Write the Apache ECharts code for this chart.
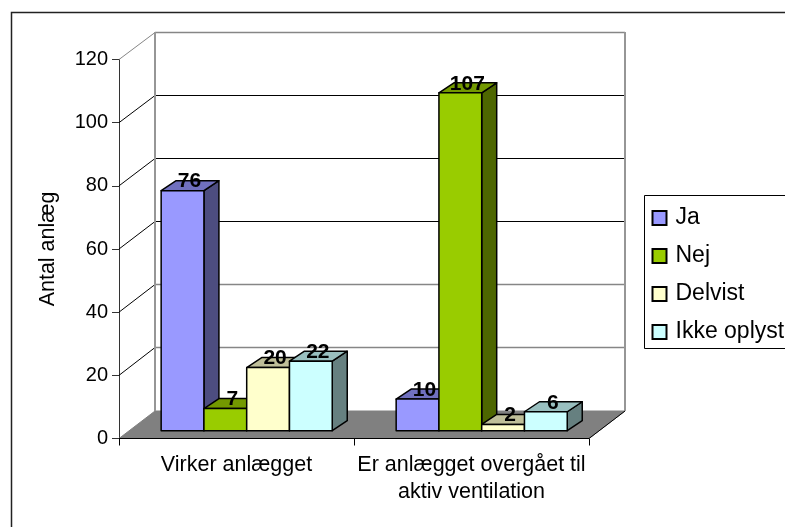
<!DOCTYPE html>
<html>
<head>
<meta charset="utf-8">
<style>html,body{margin:0;padding:0;background:#fff}#c{width:785px;height:527px}</style>
<script src="https://cdn.jsdelivr.net/npm/echarts@6/dist/echarts.min.js"></script>
</head>
<body>
<div id="c"></div>
<script>
const categories = ['Virker anlægget', 'Er anlægget overgået til\naktiv ventilation'];
const seriesNames = ['Ja', 'Nej', 'Delvist', 'Ikke oplyst'];
const ja = [76, 10];
const nej = [7, 107];
const delvist = [20, 2];
const ikkeOplyst = [22, 6];
const seriesValues = [ja, nej, delvist, ikkeOplyst];
const frontColors = ['#9999ff', '#99cc00', '#ffffcc', '#ccffff'];
const topColors = ['#7070bf', '#739900', '#bfbf99', '#99bfbf'];
const sideColors = ['#4d4d80', '#4d6600', '#808066', '#668080'];

const yAxisMax = 120;
const yStep = 20;
// These wall gridlines and the wall outline are drawn in grey, the others in black
const greyGridValues = [20, 40, 120];

// Oblique projection: how far the back wall and the bar columns sit behind the axis plane
const wallDepth = [36, -27.5];
const barPlane = [10.2, -7.8];
const barDepth = [15, -10];
const barWidthRatio = 0.182;
const FONT = '"Liberation Sans", Arial, sans-serif';

function shift(p, d) { return [p[0] + d[0], p[1] + d[1]]; }

// Floor, back wall, side wall and the gridlines that wrap round them
function renderWalls(params, api) {
  const y0 = api.coord([0, 0]);
  const rect = params.coordSys;
  const left = rect.x, right = rect.x + rect.width;
  const base = y0[1];
  const topY = rect.y;
  const children = [];
  const fl = [left, base], fr = [right, base];
  const bl = shift(fl, wallDepth), br = shift(fr, wallDepth);
  children.push({ type: 'polygon', shape: { points: [fl, fr, br, bl] },
    style: { fill: '#808080', stroke: '#808080', lineWidth: 1 } });
  for (let v = yStep; v <= yAxisMax; v += yStep) {
    const y = api.coord([0, v])[1];
    const a = [left, y], b = shift(a, wallDepth);
    const wallY = Math.floor(b[1]) + 0.5;
    const c = [right + wallDepth[0], wallY];
    const grey = greyGridValues.indexOf(v) >= 0;
    children.push({ type: 'line', shape: { x1: a[0], y1: a[1], x2: b[0], y2: wallY },
      style: { stroke: v === yAxisMax ? '#868686' : '#000', lineWidth: 1 } });
    children.push({ type: 'line', shape: { x1: b[0], y1: wallY, x2: c[0], y2: wallY },
      style: { stroke: grey ? '#868686' : '#000', lineWidth: grey ? 1.6 : 1 } });
  }
  const tb = shift([left, topY], wallDepth), tr = shift([right, topY], wallDepth);
  children.push({ type: 'polyline', shape: { points: [bl, tb] }, style: { stroke: '#969696', lineWidth: 2, fill: null } });
  children.push({ type: 'polyline', shape: { points: [tr, br] }, style: { stroke: '#969696', lineWidth: 2, fill: null } });
  children.push({ type: 'polyline', shape: { points: [fl, fr, br] }, style: { stroke: '#000', lineWidth: 1, fill: null } });
  return { type: 'group', children };
}

function makeBarRenderer(sIdx) {
  return function (params, api) {
    const catIdx = api.value(0);
    const val = api.value(1);
    const center = api.coord([catIdx, 0]);
    const band = api.size([1, 0])[0];
    const w = band * barWidthRatio;
    const xL = center[0] + barPlane[0] + (sIdx - 2) * w;
    const xR = xL + w;
    const yB = center[1] + barPlane[1];
    const yT = api.coord([catIdx, val])[1] + barPlane[1];
    const dx = barDepth[0], dy = barDepth[1];
    const line = { stroke: '#000', lineWidth: 1.5, lineJoin: 'round' };
    return {
      type: 'group',
      children: [
        { type: 'polygon', shape: { points: [[xR, yB], [xR + dx, yB + dy], [xR + dx, yT + dy], [xR, yT]] },
          style: Object.assign({ fill: sideColors[sIdx] }, line) },
        { type: 'polygon', shape: { points: [[xL, yT], [xR, yT], [xR + dx, yT + dy], [xL + dx, yT + dy]] },
          style: Object.assign({ fill: topColors[sIdx] }, line) },
        { type: 'rect', shape: { x: xL, y: yT, width: w, height: yB - yT },
          style: Object.assign({ fill: frontColors[sIdx] }, line) },
        { type: 'text', z2: 100, style: { x: xL + w / 2 + dx / 2 - 0.5, y: yT + dy / 2 - 4, text: String(val),
          font: 'bold 21px ' + FONT, fill: '#000', align: 'center', verticalAlign: 'middle' } }
      ]
    };
  };
}

const barSeries = seriesNames.map((name, i) => ({
  name,
  type: 'custom',
  z: 3 + i,
  coordinateSystem: 'cartesian2d',
  renderItem: makeBarRenderer(i),
  itemStyle: { color: frontColors[i], borderColor: '#000', borderWidth: 1 },
  data: seriesValues[i].map((v, c) => [c, v]),
  clip: false
}));

const chart = echarts.init(document.getElementById('c'), null, { renderer: 'canvas' });
chart.setOption({
  animation: false,
  backgroundColor: '#fff',
  graphic: [{
    type: 'rect', silent: true, z: -1,
    shape: { x: 11.5, y: 12.5, width: 800, height: 600 },
    style: { fill: 'none', stroke: '#222', lineWidth: 1.5 }
  }],
  legend: {
    orient: 'vertical', left: 644.5, top: 195.5, data: seriesNames,
    width: 170, padding: [11, 50, 5, 7],
    backgroundColor: '#fff', borderColor: '#000', borderWidth: 1,
    itemWidth: 14, itemHeight: 14, itemGap: 15, icon: 'rect',
    textStyle: { fontFamily: FONT, fontSize: 23, color: '#000', padding: [0, 0, 0, 4] }
  },
  grid: { left: 119, top: 59.5, width: 470, height: 379 },
  xAxis: {
    type: 'category', data: categories, boundaryGap: true,
    axisLine: { show: false },
    axisTick: { show: true, alignWithLabel: false, length: 7, lineStyle: { color: '#000' } },
    axisLabel: { fontFamily: FONT, fontSize: 21.5, color: '#000', margin: 13, lineHeight: 27, interval: 0 }
  },
  yAxis: {
    type: 'value', min: 0, max: yAxisMax, interval: yStep,
    name: 'Antal anlæg', nameLocation: 'middle', nameGap: 60, nameRotate: 90,
    nameTextStyle: { fontFamily: FONT, fontSize: 21.5, color: '#000' },
    axisLine: { show: true, lineStyle: { color: '#333' } },
    axisTick: { show: true, length: 7, lineStyle: { color: '#333' } },
    axisLabel: { fontFamily: FONT, fontSize: 20, color: '#000', margin: 11 },
    splitLine: { show: false }
  },
  series: [{
    type: 'custom', name: 'walls', z: 1, silent: true, clip: false,
    coordinateSystem: 'cartesian2d', renderItem: renderWalls, data: [[0, 0]]
  }].concat(barSeries)
});
</script>
</body>
</html>
